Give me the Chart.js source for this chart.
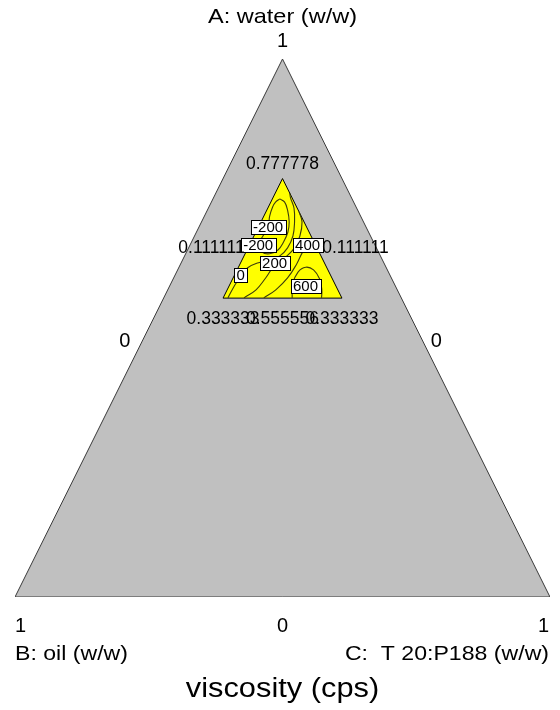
<!DOCTYPE html>
<html>
<head>
<meta charset="utf-8">
<script src="https://cdn.jsdelivr.net/npm/chart.js@4.4.1/dist/chart.umd.min.js"></script>
<style>
  html, body { margin: 0; padding: 0; background: #ffffff; }
  #c { display: block; }
</style>
</head>
<body>
<canvas id="c" width="560" height="710"></canvas>
<script>
// ---- Data (mixture fractions, B = 1 - A - C) ----
const componentNames = ['A: water (w/w)', 'B: oil (w/w)', 'C:  T 20:P188 (w/w)'];
const chartTitle = 'viscosity (cps)';
const outerVertexTicks = ['1', '1', '1'];      // A, B, C vertices
const outerEdgeTicks = ['0', '0', '0'];        // left, right, bottom edges
// inner design region: apex, bottom-left, bottom-right
const innerWater = [0.777778, 0.555556, 0.555556];
const innerT20   = [0.111111, 0.111111, 0.333333];
const innerTickLabels = ['0.777778', '0.111111', '0.111111', '0.333333', '0.555556', '0.333333'];

// contour levels and traced points (water fraction, T20:P188 fraction)
const contourLevels = ['-200', '0', '200', '400', '600'];
const contourM200Water = [0.740, 0.734, 0.719, 0.697, 0.678, 0.660, 0.645, 0.638, 0.641, 0.654, 0.671, 0.688, 0.708, 0.725, 0.734, 0.740];
const contourM200T20   = [0.125, 0.137, 0.150, 0.164, 0.171, 0.172, 0.169, 0.157, 0.141, 0.127, 0.128, 0.129, 0.122, 0.119, 0.120, 0.125];
const contour0Water = [0.556, 0.580, 0.597, 0.612, 0.621, 0.626, 0.634, 0.649, 0.671, 0.697, 0.723, 0.742, 0.751];
const contour0T20   = [0.120, 0.121, 0.124, 0.129, 0.143, 0.163, 0.178, 0.185, 0.184, 0.174, 0.160, 0.144, 0.138];
const contour200Water = [0.556, 0.571, 0.593, 0.617, 0.632, 0.649, 0.671, 0.697, 0.716];
const contour200T20   = [0.150, 0.165, 0.172, 0.177, 0.190, 0.198, 0.197, 0.188, 0.173];
const contour400Water = [0.556, 0.571, 0.593, 0.619, 0.641, 0.654, 0.658];
const contour400T20   = [0.187, 0.202, 0.213, 0.217, 0.217, 0.220, 0.231];
const contour600Water = [0.556, 0.582, 0.604, 0.613, 0.608, 0.591, 0.571, 0.556];
const contour600T20   = [0.240, 0.228, 0.227, 0.237, 0.254, 0.274, 0.288, 0.295];
// contour label positions
const labelText  = ['-200', '-200', '0', '200', '400', '600'];
const labelWater = [0.688, 0.654, 0.5985, 0.6208, 0.6552, 0.578];
const labelT20   = [0.129, 0.1275, 0.1224, 0.1749, 0.2193, 0.254];

// ---- ternary -> plot coordinates (x = C - B, y = A) ----
function tern(a, c) { const b = 1 - a - c; return { x: c - b, y: a }; }
function series(ws, cs) { return ws.map((w, i) => tern(w, cs[i])); }

const outerPts = [tern(1, 0), tern(0, 0), tern(0, 1), tern(1, 0)];
const innerPts = series(innerWater.concat([innerWater[0]]), innerT20.concat([innerT20[0]]));

const contourColor = '#3c3c0c';
function contourDS(ws, cs, lbl) {
  return { label: lbl, data: series(ws, cs), borderColor: contourColor, borderWidth: 1.1,
           pointRadius: 0, fill: false, tension: 0.4, order: 1 };
}

const FONT = '"Liberation Sans", Arial, Helvetica, sans-serif';
function txt(ctx, s, x, y, size, align, sx) {
  ctx.save();
  ctx.font = size + 'px ' + FONT;
  ctx.fillStyle = '#000';
  ctx.textBaseline = 'middle';
  ctx.textAlign = align;
  ctx.translate(x, y);
  ctx.scale(sx, 1);
  ctx.fillText(s, 0, 0);
  ctx.restore();
}

const ternaryText = {
  id: 'ternaryText',
  afterDatasetsDraw(chart) {
    const ctx = chart.ctx;
    const xs = chart.scales.x, ys = chart.scales.y;
    const P = (a, c) => { const t = tern(a, c); return { x: xs.getPixelForValue(t.x), y: ys.getPixelForValue(t.y) }; };

    // contour labels
    ctx.save();
    ctx.font = '15px ' + FONT;
    for (let i = 0; i < labelText.length; i++) {
      const p = P(labelWater[i], labelT20[i]);
      const w = Math.round(ctx.measureText(labelText[i]).width + 5);
      const h = 14;
      const x0 = Math.round(p.x - w / 2) + 0.5, y0 = Math.round(p.y - h / 2) + 0.5;
      ctx.fillStyle = '#ffffff';
      ctx.fillRect(x0, y0, w, h);
      ctx.strokeStyle = '#000';
      ctx.lineWidth = 1;
      ctx.strokeRect(x0, y0, w, h);
      ctx.fillStyle = '#000';
      ctx.textAlign = 'center';
      ctx.textBaseline = 'middle';
      ctx.fillText(labelText[i], p.x, p.y + 1);
    }
    ctx.restore();

    // outer axis ticks and names
    const vA = P(1, 0), vB = P(0, 0), vC = P(0, 1);
    const mL = P(0.5, 0), mR = P(0.5, 0.5), mBot = P(0, 0.5);
    txt(ctx, componentNames[0], vA.x, vA.y - 42, 21, 'center', 1.12);
    txt(ctx, outerVertexTicks[0], vA.x, vA.y - 18, 20, 'center', 1.0);
    txt(ctx, outerEdgeTicks[0], mL.x - 24, mL.y + 13, 20, 'center', 1.0);
    txt(ctx, outerEdgeTicks[1], mR.x + 20, mR.y + 13, 20, 'center', 1.0);
    txt(ctx, outerVertexTicks[1], vB.x, vB.y + 29, 20, 'left', 1.0);
    txt(ctx, outerEdgeTicks[2], mBot.x, mBot.y + 29, 20, 'center', 1.0);
    txt(ctx, outerVertexTicks[2], vC.x - 1, vC.y + 29, 20, 'right', 1.0);
    txt(ctx, componentNames[1], vB.x, vB.y + 57, 21, 'left', 1.1);
    txt(ctx, componentNames[2], vC.x - 1, vC.y + 57, 21, 'right', 1.1);
    txt(ctx, chartTitle, mBot.x, mBot.y + 92, 27.5, 'center', 1.12);

    // inner region ticks
    const iA = P(innerWater[0], innerT20[0]);
    const iBL = P(innerWater[1], innerT20[1]);
    const iBR = P(innerWater[2], innerT20[2]);
    const iML = P((innerWater[0] + innerWater[1]) / 2, (innerT20[0] + innerT20[1]) / 2);
    const iMR = P((innerWater[0] + innerWater[2]) / 2, (innerT20[0] + innerT20[2]) / 2);
    const iMB = P((innerWater[1] + innerWater[2]) / 2, (innerT20[1] + innerT20[2]) / 2);
    txt(ctx, innerTickLabels[0], iA.x, iA.y - 14, 17.5, 'center', 1.0);
    txt(ctx, innerTickLabels[1], iML.x - 8, iML.y + 10, 17.5, 'right', 1.0);
    txt(ctx, innerTickLabels[2], iMR.x + 10, iMR.y + 10, 17.5, 'left', 1.0);
    txt(ctx, innerTickLabels[3], iBL.x, iBL.y + 21, 17.5, 'center', 1.0);
    txt(ctx, innerTickLabels[4], iMB.x, iMB.y + 21, 17.5, 'center', 1.0);
    txt(ctx, innerTickLabels[5], iBR.x, iBR.y + 21, 17.5, 'center', 1.0);
  }
};

new Chart(document.getElementById('c'), {
  type: 'line',
  data: {
    datasets: [
      { label: 'region', data: outerPts, borderColor: '#3a3a3a', borderWidth: 1, backgroundColor: '#c0c0c0',
        pointRadius: 0, fill: 'shape', tension: 0, order: 10 },
      { label: 'design', data: innerPts, borderColor: '#000000', borderWidth: 1, backgroundColor: '#ffff00',
        pointRadius: 0, fill: 'shape', tension: 0, order: 9 },
      contourDS(contourM200Water, contourM200T20, contourLevels[0]),
      contourDS(contour0Water, contour0T20, contourLevels[1]),
      contourDS(contour200Water, contour200T20, contourLevels[2]),
      contourDS(contour400Water, contour400T20, contourLevels[3]),
      contourDS(contour600Water, contour600T20, contourLevels[4])
    ]
  },
  options: {
    responsive: false,
    animation: false,
    events: [],
    layout: { padding: { left: 15, right: 10, top: 59, bottom: 113 } },
    scales: {
      x: { type: 'linear', min: -1, max: 1, display: false },
      y: { type: 'linear', min: 0, max: 1, display: false }
    },
    plugins: { legend: { display: false }, tooltip: { enabled: false } }
  },
  plugins: [ternaryText]
});
</script>
</body>
</html>
